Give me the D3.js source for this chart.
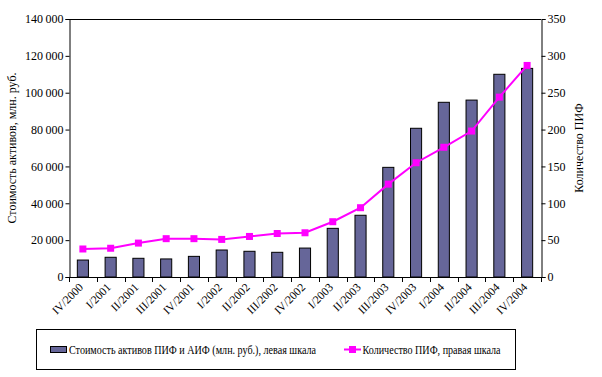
<!DOCTYPE html>
<html><head><meta charset="utf-8">
<script src="https://cdn.jsdelivr.net/npm/d3@7"></script>
<style>body{margin:0;background:#fff}svg{display:block}</style>
</head><body><svg id="c" width="602" height="377" style="font-family:'Liberation Serif'"></svg>
<script>
const categories = ["IV/2000","I/2001","II/2001","III/2001","IV/2001","I/2002","II/2002","III/2002","IV/2002","I/2003","II/2003","III/2003","IV/2003","I/2004","II/2004","III/2004","IV/2004"];
const assets = [9200,10700,10150,9800,11200,14650,13950,13400,15700,26400,33500,59500,80700,94800,96000,110000,113200];
const fundCount = [38,39,46,52,52,51,55,59,60,75,94,126,155,176,198,244,287];
const leftTicks = [0,20000,40000,60000,80000,100000,120000,140000];
const rightTicks = [0,50,100,150,200,250,300,350];
const seriesNames = ["Стоимость активов ПИФ и АИФ (млн. руб.), левая шкала","Количество ПИФ, правая шкала"];
const leftTitle = "Стоимость активов, млн. руб.";
const rightTitle = "Количество ПИФ";

const FONT = "font-family:'Liberation Serif';";
const svg = d3.select("#c");
const L=69,R=541,T=19,B=277;
const x = d3.scaleBand().domain(categories).range([L,R]).paddingInner(0).paddingOuter(0);
const yL = d3.scaleLinear().domain([0,140000]).range([B,T]);
const yR = d3.scaleLinear().domain([0,350]).range([B,T]);
const fmt = v => d3.format(",")(v).replace(/,/g,"\u2009");

svg.append("line").attr("x1",L).attr("x2",R).attr("y1",T+0.5).attr("y2",T+0.5).attr("stroke","#000");

const bw = x.bandwidth()/2.5;
svg.selectAll("rect.bar").data(assets).join("rect").attr("class","bar")
  .attr("x",(d,i)=>x(categories[i])+x.bandwidth()/2-bw/2)
  .attr("y",d=>yL(d)).attr("width",bw).attr("height",d=>B-yL(d))
  .attr("fill","#666699").attr("stroke","#000").attr("stroke-width",1);

const gl = svg.append("g").attr("transform",`translate(${L+0.5},0)`)
  .call(d3.axisLeft(yL).tickValues(leftTicks).tickSize(4).tickFormat(fmt));
gl.attr("font-family",null).attr("font-size",null);
gl.selectAll("path,line").attr("stroke","#000");
gl.selectAll("text").attr("style",FONT+"font-size:12px").attr("x",-6).attr("fill","#000");

const gr = svg.append("g").attr("transform",`translate(${R+0.5},0)`)
  .call(d3.axisRight(yR).tickValues(rightTicks).tickSize(4));
gr.attr("font-family",null).attr("font-size",null);
gr.selectAll("path,line").attr("stroke","#000");
gr.selectAll("text").attr("style",FONT+"font-size:12px").attr("x",6).attr("fill","#000");

svg.append("line").attr("x1",L).attr("x2",R+4).attr("y1",B+0.5).attr("y2",B+0.5).attr("stroke","#000");
const bounds = categories.map(c=>x(c)).concat([R]);
svg.selectAll("line.xt").data(bounds).join("line").attr("class","xt")
  .attr("x1",d=>Math.round(d)+0.5).attr("x2",d=>Math.round(d)+0.5).attr("y1",B).attr("y2",B+5).attr("stroke","#000");
svg.selectAll("text.xl").data(categories).join("text").attr("class","xl")
  .attr("transform",d=>`translate(${x(d)+x.bandwidth()/2+1},${B+11}) rotate(-45)`)
  .attr("text-anchor","end").attr("style",FONT+"font-size:11.5px").text(d=>d);

const line = d3.line().x((d,i)=>x(categories[i])+x.bandwidth()/2).y(d=>yR(d));
svg.append("path").datum(fundCount).attr("d",line).attr("fill","none").attr("stroke","#FF00FF").attr("stroke-width",2);
svg.selectAll("rect.mk").data(fundCount).join("rect").attr("class","mk")
  .attr("x",(d,i)=>x(categories[i])+x.bandwidth()/2-3.5).attr("y",d=>yR(d)-3.5)
  .attr("width",7).attr("height",7).attr("fill","#FF00FF");

svg.append("text").attr("transform",`translate(16,${(T+B)/2}) rotate(-90)`).attr("text-anchor","middle").attr("style",FONT+"font-size:12px").text(leftTitle);
svg.append("text").attr("transform",`translate(583,${(T+B)/2}) rotate(-90)`).attr("text-anchor","middle").attr("style",FONT+"font-size:12px").text(rightTitle);

svg.append("rect").attr("x",36.5).attr("y",329.5).attr("width",479).attr("height",40).attr("fill","none").attr("stroke","#000");
svg.append("rect").attr("x",50.5).attr("y",346.5).attr("width",16).attr("height",6).attr("fill","#666699").attr("stroke","#000");
svg.append("text").attr("x",69).attr("y",354).attr("style",FONT+"font-size:11.5px")
  .attr("textLength",247).attr("lengthAdjust","spacingAndGlyphs").text(seriesNames[0]);
svg.append("line").attr("x1",344).attr("x2",361).attr("y1",349.5).attr("y2",349.5).attr("stroke","#FF00FF").attr("stroke-width",2);
svg.append("rect").attr("x",349).attr("y",346).attr("width",7).attr("height",7).attr("fill","#FF00FF");
svg.append("text").attr("x",362.5).attr("y",354).attr("style",FONT+"font-size:11.5px")
  .attr("textLength",138).attr("lengthAdjust","spacingAndGlyphs").text(seriesNames[1]);
</script></body></html>
